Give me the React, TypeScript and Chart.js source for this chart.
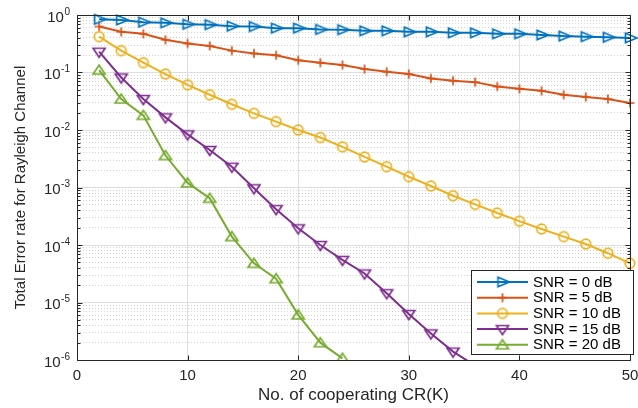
import React, { useEffect, useRef } from 'react';
import { Chart, registerables } from 'chart.js';

Chart.register(...registerables);

// ---- data ----
const K = [2, 4, 6, 8, 10, 12, 14, 16, 18, 20, 22, 24, 26, 28, 30, 32, 34, 36, 38, 40, 42, 44, 46, 48, 50];

const snr0 = [0.84, 0.82, 0.75, 0.73, 0.69, 0.68, 0.64, 0.63, 0.59, 0.59, 0.56, 0.555, 0.53, 0.53, 0.51, 0.51, 0.49, 0.49, 0.47, 0.47, 0.45, 0.43, 0.42, 0.41, 0.40];
const snr5 = [0.63, 0.51, 0.47, 0.37, 0.32, 0.29, 0.24, 0.215, 0.20, 0.163, 0.148, 0.135, 0.115, 0.103, 0.094, 0.079, 0.072, 0.068, 0.057, 0.052, 0.048, 0.041, 0.0375, 0.0346, 0.0295];
const snr10 = [0.42, 0.24, 0.148, 0.094, 0.061, 0.041, 0.028, 0.0195, 0.014, 0.010, 0.0074, 0.0051, 0.0034, 0.0023, 0.00154, 0.00106, 0.00072, 0.00051, 0.00036, 0.00026, 0.00019, 0.00014, 0.000104, 0.000072, 0.000048];
const snr15 = [0.23, 0.082, 0.0346, 0.0166, 0.0084, 0.0045, 0.0023, 0.00097, 0.00042, 0.000195, 0.0001, 0.000055, 0.000032, 0.0000145, 0.0000063, 0.0000029, 0.0000014, 0.0000008, null, null, null, null, null, null, null];
const snr20 = [0.11, 0.0346, 0.018, 0.0036, 0.0012, 0.00065, 0.00014, 0.000048, 0.000026, 0.0000061, 0.000002, 0.00000107, null, null, null, null, null, null, null, null, null, null, null, null, null];

const seriesLabels = ['SNR = 0 dB', 'SNR = 5 dB', 'SNR = 10 dB', 'SNR = 15 dB', 'SNR = 20 dB'];
const xTickValues = [0, 10, 20, 30, 40, 50];
const yDecades = [-6, -5, -4, -3, -2, -1, 0];
const xTitle = 'No. of cooperating CR(K)';
const yTitle = 'Total Error rate for Rayleigh Channel';

const SERIES = [snr0, snr5, snr10, snr15, snr20];
const COLORS = ['#0072BD', '#D95319', '#EDB120', '#7E2F8E', '#77AC30'];
const MARKERS = ['right', 'plus', 'circle', 'down', 'up'];
const FONT = "'Liberation Sans', Arial, Helvetica, sans-serif";
const TXT = '#262626';

function isDecade(v: number) {
  if (!(v > 0)) return false;
  const e = Math.round(Math.log10(v));
  return Math.abs(v / Math.pow(10, e) - 1) < 1e-6;
}
function decadeExp(v: number) {
  return Math.round(Math.log10(v));
}

function makeMarker(kind: string, color: string): HTMLCanvasElement {
  const c = document.createElement('canvas');
  const s = 18;
  c.width = s;
  c.height = s;
  const g = c.getContext('2d')!;
  g.strokeStyle = color;
  g.lineWidth = 1.7;
  g.lineJoin = 'miter';
  const m = s / 2;
  g.beginPath();
  if (kind === 'right') {
    g.moveTo(m - 4.5, m - 4.8);
    g.lineTo(m + 7, m);
    g.lineTo(m - 4.5, m + 4.8);
    g.closePath();
  } else if (kind === 'down') {
    g.moveTo(m - 6, m - 3.5);
    g.lineTo(m + 6, m - 3.5);
    g.lineTo(m, m + 5.5);
    g.closePath();
  } else if (kind === 'up') {
    g.moveTo(m - 6, m + 4);
    g.lineTo(m + 6, m + 4);
    g.lineTo(m, m - 5);
    g.closePath();
  } else if (kind === 'plus') {
    g.moveTo(m - 4.5, m);
    g.lineTo(m + 4.5, m);
    g.moveTo(m, m - 4.5);
    g.lineTo(m, m + 4.5);
  } else {
    g.arc(m, m, 4.8, 0, Math.PI * 2);
  }
  g.stroke();
  return c;
}

export default function App() {
  const ref = useRef<HTMLCanvasElement>(null);

  useEffect(() => {
    document.body.style.margin = '0';
    const canvas = ref.current!;
    const markerImgs = MARKERS.map((k, i) => makeMarker(k, COLORS[i]));

    const datasets = SERIES.map((s, i) => ({
      label: seriesLabels[i],
      data: K.map((k, j) => ({ x: k, y: s[j] })),
      borderColor: COLORS[i],
      backgroundColor: 'rgba(0,0,0,0)',
      borderWidth: 2,
      pointStyle: markerImgs[i],
      pointRadius: (c: any) => (c.raw && c.raw.y != null && c.raw.y < 1e-6 ? 0 : 6),
      tension: 0,
      spanGaps: false,
      clip: { left: 12, top: 12, right: 12, bottom: 1 },
    }));

    const decor = {
      id: 'decor',
      afterDraw(chart: any) {
        const { ctx, chartArea: a, scales } = chart;
        const xs = scales.x;
        const ys = scales.y;
        const L = Math.round(a.left) + 0.5;
        const R = Math.round(a.right) + 0.5;
        const T = Math.round(a.top) + 0.5;
        const B = Math.round(a.bottom) + 0.5;
        ctx.save();
        ctx.strokeStyle = TXT;
        ctx.lineWidth = 1;
        ctx.beginPath();
        ctx.rect(L, T, R - L, B - T);
        xs.ticks.forEach((t: any) => {
          const p = Math.round(xs.getPixelForValue(t.value)) + 0.5;
          ctx.moveTo(p, B);
          ctx.lineTo(p, B - 5);
          ctx.moveTo(p, T);
          ctx.lineTo(p, T + 5);
        });
        ys.ticks.forEach((t: any) => {
          const p = Math.round(ys.getPixelForValue(t.value)) + 0.5;
          const len = isDecade(t.value) ? 5 : 3;
          ctx.moveTo(L, p);
          ctx.lineTo(L + len, p);
          ctx.moveTo(R, p);
          ctx.lineTo(R - len, p);
        });
        ctx.stroke();

        // y tick labels: 10 with raised exponent
        ctx.fillStyle = TXT;
        ctx.textAlign = 'right';
        ctx.textBaseline = 'middle';
        ys.ticks.forEach((t: any) => {
          if (!isDecade(t.value)) return;
          const p = ys.getPixelForValue(t.value);
          const exp = String(decadeExp(t.value));
          const xr = a.left - 7;
          ctx.font = `10px ${FONT}`;
          const we = ctx.measureText(exp).width;
          ctx.fillText(exp, xr, p - 3);
          ctx.font = `15px ${FONT}`;
          ctx.fillText('10', xr - we - 0.5, p + 2.5);
        });

        // legend
        const bx = 471.5, by = 270.5, bw = 162, bh = 84;
        ctx.fillStyle = '#ffffff';
        ctx.fillRect(bx, by, bw, bh);
        ctx.strokeStyle = TXT;
        ctx.lineWidth = 1;
        ctx.strokeRect(bx, by, bw, bh);
        chart.data.datasets.forEach((ds: any, i: number) => {
          const y = 282 + i * 15.7;
          ctx.strokeStyle = ds.borderColor;
          ctx.lineWidth = 2;
          ctx.beginPath();
          ctx.moveTo(477, y);
          ctx.lineTo(528, y);
          ctx.stroke();
          const img = markerImgs[i];
          ctx.drawImage(img, 502.5 - img.width / 2, y - img.height / 2);
          ctx.fillStyle = '#000000';
          ctx.font = `15px ${FONT}`;
          ctx.textAlign = 'left';
          ctx.textBaseline = 'middle';
          ctx.fillText(ds.label, 533, y + 0.5);
        });
        ctx.restore();
      },
    };

    const chart = new Chart(canvas, {
      type: 'line',
      data: { datasets },
      plugins: [decor],
      options: {
        animation: false,
        responsive: false,
        devicePixelRatio: 1,
        events: [],
        layout: { padding: { left: 0, top: 15, right: 5, bottom: 0 } },
        plugins: { legend: { display: false }, tooltip: { enabled: false } },
        scales: {
          x: {
            type: 'linear',
            min: 0,
            max: 50,
            afterBuildTicks: (s: any) => {
              s.ticks = xTickValues.map((v) => ({ value: v }));
            },
            afterFit: (s: any) => {
              s.height = 48;
              s.paddingLeft = 0;
              s.paddingRight = 0;
            },
            ticks: { color: TXT, padding: 7, font: { family: FONT, size: 15 }, maxRotation: 0, autoSkip: false },
            grid: { drawTicks: false, color: '#dedede', lineWidth: 1 },
            border: { display: false },
            title: { display: true, text: xTitle, color: TXT, font: { family: FONT, size: 17 }, padding: { top: 0, bottom: 2 } },
          },
          y: {
            type: 'logarithmic',
            min: 1e-6,
            max: 1,
            afterBuildTicks: (s: any) => {
              const ticks: any[] = [];
              yDecades.forEach((e) => {
                for (let m = 1; m <= 9; m++) {
                  const v = m * Math.pow(10, e);
                  if (v <= 1 + 1e-9) ticks.push({ value: v });
                }
              });
              s.ticks = ticks;
            },
            afterFit: (s: any) => {
              s.width = 77;
            },
            ticks: { display: false, autoSkip: false },
            grid: {
              drawTicks: false,
              color: (c: any) => (c.tick && !isDecade(c.tick.value) ? '#d2d2d2' : '#dedede'),
              lineWidth: 1,
            },
            border: {
              display: false,
              dash: (c: any) => (c.tick && !isDecade(c.tick.value) ? [1, 2] : []),
            },
            title: { display: true, text: yTitle, color: TXT, font: { family: FONT, size: 15 }, padding: { top: 12, bottom: 0 } },
          },
        },
      } as any,
    });

    return () => chart.destroy();
  }, []);

  return (
    <div style={{ width: 638, height: 408, position: 'relative', background: '#fff' }}>
      <canvas ref={ref} width={638} height={408} style={{ display: 'block', width: 638, height: 408 }} />
    </div>
  );
}
